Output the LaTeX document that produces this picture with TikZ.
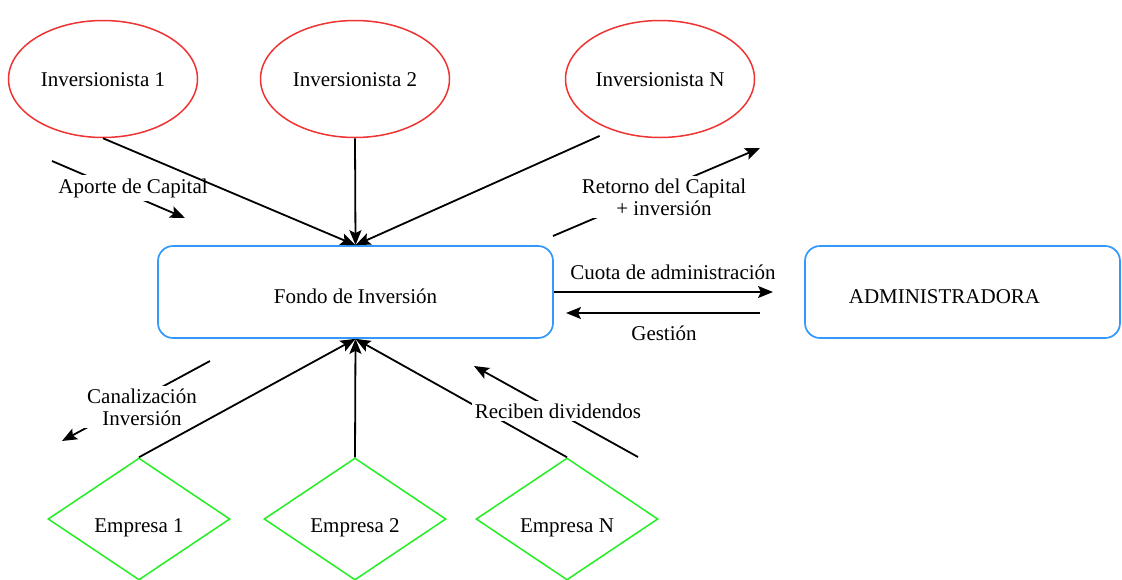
\documentclass[tikz,border=0pt]{standalone}
\usepackage{fontspec}
\setmainfont{Liberation Serif}
\usetikzlibrary{shapes.geometric,arrows.meta}
\definecolor{invred}{RGB}{238,51,51}
\definecolor{boxblue}{RGB}{51,153,255}
\definecolor{empgreen}{RGB}{34,238,34}
\begin{document}
\begin{tikzpicture}[x=1pt,y=-1pt,font=\fontsize{21}{22}\selectfont,
  inv/.style={ellipse,draw=invred,line width=1.5pt,minimum width=189pt,minimum height=117pt,inner sep=0pt,text height=16pt,text depth=2pt},
  fbox/.style={rectangle,rounded corners=15pt,draw=boxblue,line width=1.7pt,minimum height=92pt,inner sep=0pt,text height=22.5pt,text depth=0pt},
  emp/.style={diamond,draw=empgreen,line width=1.5pt,minimum width=182pt,minimum height=122pt,aspect=1.5,inner sep=0pt,text height=27pt,text depth=0pt},
  arr/.style={line width=1.8pt,-{Stealth[length=15pt,width=12pt,inset=3pt]}},
  lbl/.style={fill=white,inner sep=3pt,align=center}]
\useasboundingbox (0,0) rectangle (1122,579);
% nodes
\node[inv] (i1) at (103,79) {Inversionista 1};
\node[inv] (i2) at (355,79) {Inversionista 2};
\node[inv] (iN) at (660,79) {Inversionista N};
\node[fbox,minimum width=395pt] (f) at (355.5,292) {Fondo de Inversión};
\node[fbox,minimum width=315pt] (adm) at (962.5,292) {ADMINISTRADORA\hspace*{36pt}};
\node[emp] (e1) at (139,519) {Empresa 1};
\node[emp] (e2) at (355,519) {Empresa 2};
\node[emp] (eN) at (567,519) {Empresa N};
% free ends
\coordinate (cuotaEnd) at (773,292);
\coordinate (gs) at (760,313);
\coordinate (ge) at (566,313);
\coordinate (a1) at (52,161);
\coordinate (a2) at (185,218);
\coordinate (r1) at (553,236);
\coordinate (r2) at (760,148);
\coordinate (c1) at (210,361);
\coordinate (c2) at (62,441);
\coordinate (d1) at (638,457);
\coordinate (d2) at (474,366);
% main connectors
\draw[arr] (i2.south) -- (f.north);
\draw[arr] ([xshift=7pt,yshift=-15pt]iN.south west) -- (f.north);
\draw[arr] (e2.north) -- (f.south);
\draw[arr] (eN.north) -- (f.south);
\draw[arr] (f.east) -- (cuotaEnd);
\draw[arr] (gs) -- (ge);
% label arrows
\draw[arr] (a1) -- (a2);
\draw[arr] (r1) -- (r2);
\draw[arr] (c1) -- (c2);
\draw[arr] (d1) -- (d2);
% labels
\node[lbl] (la) at (133,188) {Aporte de Capital};
\node[lbl] (lr) at (664,197) {Retorno del Capital\\+ inversión};
\node[lbl] (lc) at (142,407) {Canalización\\Inversión};
\node[lbl] (ld) at (558,411) {Reciben dividendos};
\node (lq) at (673,272) {Cuota de administración};
\node (lg) at (664,333) {Gestión};
\draw[arr] (i1.south) -- (f.north);
\draw[arr] (e1.north) -- (f.south);
\end{tikzpicture}
\end{document}
